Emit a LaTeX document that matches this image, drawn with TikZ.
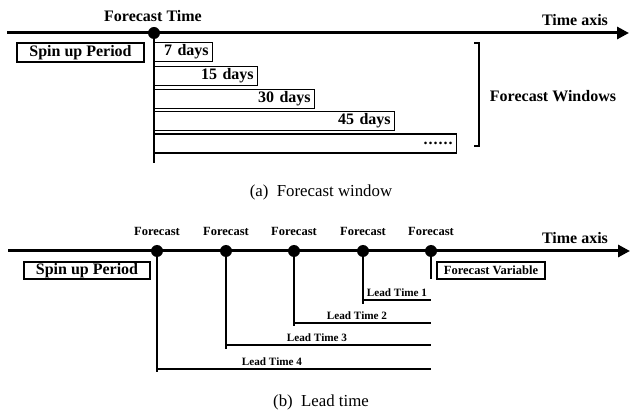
\documentclass[tikz,border=0pt]{standalone}
\usepackage{fontspec}
\setmainfont{Liberation Serif}
\usetikzlibrary{arrows.meta}
\tikzset{
  big/.style={font=\fontsize{16}{18}\selectfont\bfseries},
  small/.style={font=\fontsize{12.5}{14}\selectfont\bfseries},
  tiny/.style={font=\fontsize{11.2}{13}\selectfont\bfseries},
  captext/.style={font=\fontsize{16.8}{19}\selectfont},
  axis/.style={line width=3pt,-{Triangle[length=12pt,width=12pt]}},
  dot/.style={circle,fill=black,inner sep=0pt,minimum size=12pt},
  win/.style={draw,line width=1.4pt,big,anchor=west,minimum height=19pt,inner sep=0pt,inner xsep=4pt,align=right},
  sbox/.style={draw,line width=1.4pt,inner sep=0pt,align=center},
  vline/.style={line width=1.5pt},
  lline/.style={line width=1.2pt},
}
\begin{document}
\begin{tikzpicture}[x=1pt,y=-1pt]
\useasboundingbox (0,0) rectangle (630,414);
% ---------------- (a) ----------------
\coordinate (a0) at (7,33);
\coordinate (a1) at (629,33);
\draw[axis] (a0) -- (a1);
\node[dot] (ft) at (154,33) {};
\node[big] (ftl) at (153,16) {Forecast Time};
\node[big] (tax) at (575,20) {Time axis};
\coordinate (v0) at (154,163);
\draw[vline] (ft.center) -- (v0);
\node[sbox,big,minimum width=127pt,minimum height=19pt] (spa) at (80.5,52.5) {Spin up Period};
\node[win,text width=50pt] (w7) at (154,52) {7 days};
\node[win,text width=95pt] (w15) at (154,76) {15 days};
\node[win,text width=152pt] (w30) at (154,99) {30 days};
\node[win,text width=232pt] (w45) at (154,121) {45 days};
\node[win,text width=294pt] (wdots) at (154,143.5) {.\kern1pt.\kern1pt.\kern1pt.\kern1pt.\kern1pt.};
\coordinate (b0) at (474,43);
\coordinate (b1) at (479,43);
\coordinate (b2) at (479,146);
\coordinate (b3) at (474,146);
\draw[line width=1.5pt] (b0) -- (b1) -- (b2) -- (b3);
\node[big] (fw) at (553,96) {Forecast Windows};
\node[captext] (capa) at (321,192) {(a)\ \ Forecast window};
% ---------------- (b) ----------------
\coordinate (c0) at (8,251);
\coordinate (c1) at (630,251);
\draw[axis] (c0) -- (c1);
\node[dot] (d1) at (157,251) {};
\node[dot] (d2) at (226,251) {};
\node[dot] (d3) at (294,251) {};
\node[dot] (d4) at (363,251) {};
\node[dot] (d5) at (431,251) {};
\foreach \i in {1,...,5} {
  \node[small] (fl\i) at ([yshift=20pt]d\i) {Forecast};
}
\node[big] (taxb) at (575,238) {Time axis};
\node[sbox,big,minimum width=126pt,minimum height=17pt] (spb) at (87,270.5) {Spin up Period};
\node[sbox,small,minimum width=108pt,minimum height=17pt] (fv) at (491,270.5) {Forecast Variable};
\coordinate (e5) at (431,279);
\coordinate (e4) at (363,304);
\coordinate (e3) at (294,326);
\coordinate (e2) at (226,349);
\coordinate (e1) at (157,372);
\foreach \i in {1,...,5} { \draw[vline] (d\i.center) -- (e\i); }
\coordinate (h4) at (363,300);  \coordinate (k4) at (431,300);
\coordinate (h3) at (294,323);  \coordinate (k3) at (431,323);
\coordinate (h2) at (226,345);  \coordinate (k2) at (431,345);
\coordinate (h1) at (157,369);  \coordinate (k1) at (431,369);
\draw[lline] (h4) -- (k4);
\draw[lline] (h3) -- (k3);
\draw[lline] (h2) -- (k2);
\draw[lline] (h1) -- (k1);
\node[tiny] (lt1) at (397,293) {Lead Time 1};
\node[tiny] (lt2) at (357,316) {Lead Time 2};
\node[tiny] (lt3) at (317,338) {Lead Time 3};
\node[tiny] (lt4) at (272,362) {Lead Time 4};
\node[captext] (capb) at (321,402) {(b)\ \ Lead time};
\end{tikzpicture}
\end{document}
